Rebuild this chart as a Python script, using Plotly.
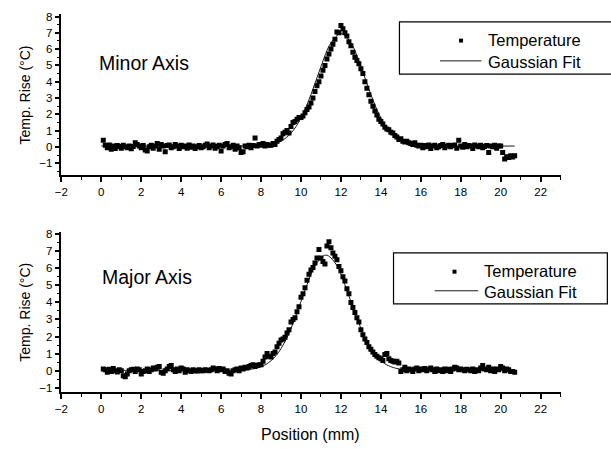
import plotly.graph_objects as go

# ---------------- data ----------------
# positions are sampled every 0.1 mm starting at 0.1 mm
pos_start = 0.1
pos_step = 0.1

minor_temp = [
    0.40, 0.10, -0.05, 0.12, -0.15, 0.05, -0.10, 0.08, 0.02, -0.08,
    0.10, 0.00, -0.05, 0.05, -0.12, 0.03, 0.25, 0.15, 0.05, -0.05,
    0.08, -0.20, -0.25, 0.00, 0.10, -0.08, 0.05, 0.20, -0.15, 0.15,
    0.05, -0.30, 0.08, 0.12, -0.05, 0.00, 0.15, 0.05, -0.10, 0.10,
    0.00, 0.05, -0.08, 0.12, -0.02, 0.05, -0.10, 0.00, 0.08, -0.05,
    0.00, 0.10, 0.18, -0.05, 0.05, 0.12, -0.08, 0.02, 0.10, -0.25,
    0.05, 0.15, 0.20, -0.05, 0.00, 0.10, -0.15, 0.05, -0.05, -0.35,
    -0.30, 0.05, 0.00, 0.10, -0.05, 0.08, 0.55, 0.05, 0.15, 0.10,
    0.20, 0.05, 0.15, 0.10,
    0.10, 0.20, 0.15, 0.35, 0.45, 0.55, 0.80, 0.90, 1.00, 0.85,
    1.25, 1.50, 1.55, 1.70, 1.80, 1.80, 1.90, 2.10, 2.30, 2.45,
    2.70, 3.00, 3.40, 3.75, 4.00, 4.35, 4.70, 5.00, 5.40, 5.70,
    6.00, 6.30, 6.60, 7.05, 7.00, 7.45, 7.25, 7.00, 6.80, 6.45,
    6.20, 5.80, 5.50, 5.30, 5.10, 4.80, 4.50, 4.00, 3.60, 3.20,
    2.80, 2.50, 2.20, 1.95, 1.70, 1.55, 1.40, 1.20, 1.10, 1.05,
    0.90, 0.85, 0.70, 0.60, 0.45, 0.50, 0.35, 0.30, 0.35, 0.25,
    0.20, 0.15, 0.25, 0.10, 0.05,
    0.10, -0.05, 0.08, 0.00, 0.12, -0.10, 0.05, 0.10, -0.05, 0.00,
    0.08, 0.15, -0.05, 0.05, 0.10, 0.00, 0.08, 0.12, -0.08, 0.40,
    0.05, -0.02, 0.15, 0.00, 0.08, 0.05, -0.10, 0.12, 0.05, 0.00,
    0.10, -0.05, 0.02, 0.08, -0.35, 0.05, 0.00, 0.10, -0.08, 0.05,
    0.05, -0.35, -0.75, -0.60, -0.65, -0.55, -0.62, -0.55,
]

major_temp = [
    0.10, 0.05, -0.10, 0.08, -0.05, 0.12, 0.00, -0.08, 0.05, 0.00,
    -0.30, -0.35, -0.20, 0.00, 0.05, 0.08, -0.05, 0.10, 0.05, -0.20,
    -0.05, 0.00, 0.10, -0.05, 0.05, 0.15, 0.10, 0.20, 0.25, -0.10,
    -0.15, 0.00, 0.10, 0.25, 0.30, 0.05, -0.05, 0.10, 0.00, 0.15,
    0.10, -0.10, 0.05, 0.00, -0.05, 0.05, 0.00, -0.02, 0.05, 0.00,
    0.00, 0.05, 0.02, 0.00, 0.05, 0.15, 0.10, 0.00, 0.12, 0.05,
    0.10, -0.05, 0.00, -0.15, -0.20, 0.00, 0.05, 0.10, 0.00, 0.15,
    0.10, 0.20, 0.15, 0.25, 0.30, 0.35, 0.25, 0.30, 0.35,
    0.35, 0.55, 0.80, 1.00, 0.85, 0.80, 1.00, 1.10, 1.40, 1.60,
    1.80, 1.85, 1.95, 2.20, 2.40, 2.85, 3.00, 3.10, 3.45, 3.75,
    4.30, 4.50, 4.85, 5.30, 5.65, 5.90, 6.05, 6.30, 6.60, 7.10,
    6.60, 6.40, 6.25, 7.30, 7.55, 7.20, 6.90, 6.70, 6.50, 6.10,
    5.85, 5.50, 5.25, 4.80, 4.50, 4.00, 3.70, 3.40, 3.10, 2.85,
    2.40, 2.10, 1.85, 1.65, 1.40, 1.25, 1.10, 0.95, 0.85, 0.75,
    0.70, 0.60, 0.95, 1.00, 0.70, 0.60, 0.55, 0.50, 0.55, 0.45,
    -0.05, 0.05, 0.20, 0.00, 0.10, 0.05, -0.05, 0.10, 0.15, 0.00,
    0.10, 0.05, 0.12, 0.00, 0.08, 0.15, 0.05, -0.05, 0.10, 0.00,
    0.05, -0.05, 0.10, 0.00, 0.08, -0.05, 0.10, 0.20, 0.15, 0.05,
    0.10, 0.05, 0.00, 0.08, 0.05, 0.00, 0.10, -0.05, 0.05, 0.00,
    0.15, 0.30, 0.10, 0.05, 0.20, 0.00, 0.10, -0.05, 0.10, 0.05,
    0.25, 0.15, 0.00, 0.10, 0.05, -0.05, -0.05, -0.10,
]

minor_fit_x = [0.0, 7.0, 8.0, 8.5, 9.0, 9.5, 10.0, 10.5, 11.0, 11.5, 12.0,
               12.5, 13.0, 13.5, 14.0, 14.5, 15.0, 15.5, 16.0, 17.0, 20.7]
minor_fit_y = [0.05, 0.05, 0.08, 0.15, 0.35, 0.84, 1.77, 3.21, 4.93, 6.38, 6.95,
               6.38, 4.93, 3.21, 1.77, 0.84, 0.35, 0.15, 0.08, 0.05, 0.05]

major_fit_x = [0.0, 6.0, 7.25, 7.75, 8.25, 8.75, 9.25, 9.75, 10.25, 10.75, 11.25,
               11.75, 12.25, 12.75, 13.25, 13.75, 14.25, 14.75, 15.25, 16.0, 20.7]
major_fit_y = [0.02, 0.02, 0.05, 0.14, 0.37, 0.88, 1.82, 3.23, 4.87, 6.24, 6.77,
               6.24, 4.87, 3.23, 1.82, 0.88, 0.37, 0.14, 0.05, 0.02, 0.02]

x_ticks = [-2, 0, 2, 4, 6, 8, 10, 12, 14, 16, 18, 20, 22]
y_ticks = [-1, 0, 1, 2, 3, 4, 5, 6, 7, 8]

panel_labels = ["Minor Axis", "Major Axis"]
series_names = ["Temperature", "Gaussian Fit"]
x_title = "Position (mm)"
y_title = "Temp. Rise (°C)"

# ---------------- figure ----------------
W, H = 611, 449
FONT = "Liberation Sans, Arial, Helvetica, sans-serif"


def px(x):
    return x / W


def py(y):
    return 1 - y / H


fig = go.Figure()

panels = [
    (minor_temp, minor_fit_x, minor_fit_y, "x", "y"),
    (major_temp, major_fit_x, major_fit_y, "x2", "y2"),
]
for temp, fx, fy, xa, ya in panels:
    fig.add_trace(go.Scatter(
        x=fx, y=fy, mode="lines", line=dict(color="black", width=0.9, shape="spline"),
        xaxis=xa, yaxis=ya, showlegend=False, name=series_names[1]))
    fig.add_trace(go.Scatter(
        x0=pos_start, dx=pos_step, y=temp, mode="markers",
        marker=dict(symbol="square", size=5, color="black", line=dict(width=0)),
        xaxis=xa, yaxis=ya, showlegend=False, name=series_names[0]))

xdom = [px(55), px(560)]
common_x = dict(
    range=[-2, 23], tickvals=x_ticks, showline=True, linecolor="black", linewidth=1.5,
    ticks="outside", ticklen=5, tickwidth=1.5, tickcolor="black",
    minor=dict(dtick=1, tick0=0, ticks="outside", ticklen=3, tickwidth=1.3, tickcolor="black"),
    showgrid=False, zeroline=False, tickfont=dict(family=FONT, size=11.5, color="black"),
    domain=xdom,
)
common_y = dict(
    tickvals=y_ticks, showline=True, linecolor="black", linewidth=1.5,
    ticks="outside", ticklen=5, tickwidth=1.5, tickcolor="black",
    minor=dict(dtick=0.5, tick0=0, ticks="outside", ticklen=3, tickwidth=1.3, tickcolor="black"),
    showgrid=False, zeroline=False, tickfont=dict(family=FONT, size=11.5, color="black"),
)

fig.update_layout(
    width=W, height=H, margin=dict(l=0, r=0, t=0, b=0),
    paper_bgcolor="white", plot_bgcolor="white", showlegend=False,
    font=dict(family=FONT, color="black"),
    xaxis=dict(**common_x, anchor="y"),
    yaxis=dict(**common_y, range=[-1.75, 8.15], domain=[py(173.3), py(10.2)], anchor="x"),
    xaxis2=dict(**common_x, anchor="y2"),
    yaxis2=dict(**common_y, range=[-1.27, 8.15], domain=[py(392.7), py(230.1)], anchor="x2"),
)

annotations = []
# panel labels
annotations.append(dict(x=px(91), y=py(60), xref="paper", yref="paper", text=panel_labels[0],
                        showarrow=False, xanchor="left", yanchor="middle",
                        font=dict(family=FONT, size=19.5, color="black")))
annotations.append(dict(x=px(94), y=py(276), xref="paper", yref="paper", text=panel_labels[1],
                        showarrow=False, xanchor="left", yanchor="middle",
                        font=dict(family=FONT, size=19.5, color="black")))
# axis titles
for cy in [91.7, 311.4]:
    annotations.append(dict(x=px(18), y=py(cy), xref="paper", yref="paper", text=y_title,
                            showarrow=False, textangle=-90, xanchor="center", yanchor="middle",
                            font=dict(family=FONT, size=14, color="black")))
annotations.append(dict(x=px(307.5), y=py(435), xref="paper", yref="paper", text=x_title,
                        showarrow=False, xanchor="center", yanchor="middle",
                        font=dict(family=FONT, size=16, color="black")))

shapes = []
# legends (box, symbol samples, text)
legends = [
    dict(box=(397, 18, 616, 71), mk=(459.3, 37), ln=(438, 480, 57.5), tx=485, ty=(36.7, 58.8)),
    dict(box=(391, 251.7, 607.3, 303.3), mk=(452.7, 270.7), ln=(432.7, 476.7, 290), tx=480, ty=(270.2, 291.2)),
]
for lg in legends:
    x0, y0, x1, y1 = lg["box"]
    shapes.append(dict(type="rect", xref="paper", yref="paper", x0=px(x0), x1=px(x1),
                       y0=py(y1), y1=py(y0), line=dict(color="black", width=1.2),
                       fillcolor="rgba(0,0,0,0)"))
    mx, my = lg["mk"]
    shapes.append(dict(type="rect", xref="paper", yref="paper", x0=px(mx - 2), x1=px(mx + 2),
                       y0=py(my + 2), y1=py(my - 2), line=dict(width=0), fillcolor="black"))
    lx0, lx1, ly = lg["ln"]
    shapes.append(dict(type="line", xref="paper", yref="paper", x0=px(lx0), x1=px(lx1),
                       y0=py(ly), y1=py(ly), line=dict(color="black", width=0.9)))
    for name, ty in zip(series_names, lg["ty"]):
        annotations.append(dict(x=px(lg["tx"]), y=py(ty), xref="paper", yref="paper", text=name,
                                showarrow=False, xanchor="left", yanchor="middle",
                                font=dict(family=FONT, size=16.5, color="black")))

fig.update_layout(annotations=annotations, shapes=shapes)

fig.write_html("out.html")
